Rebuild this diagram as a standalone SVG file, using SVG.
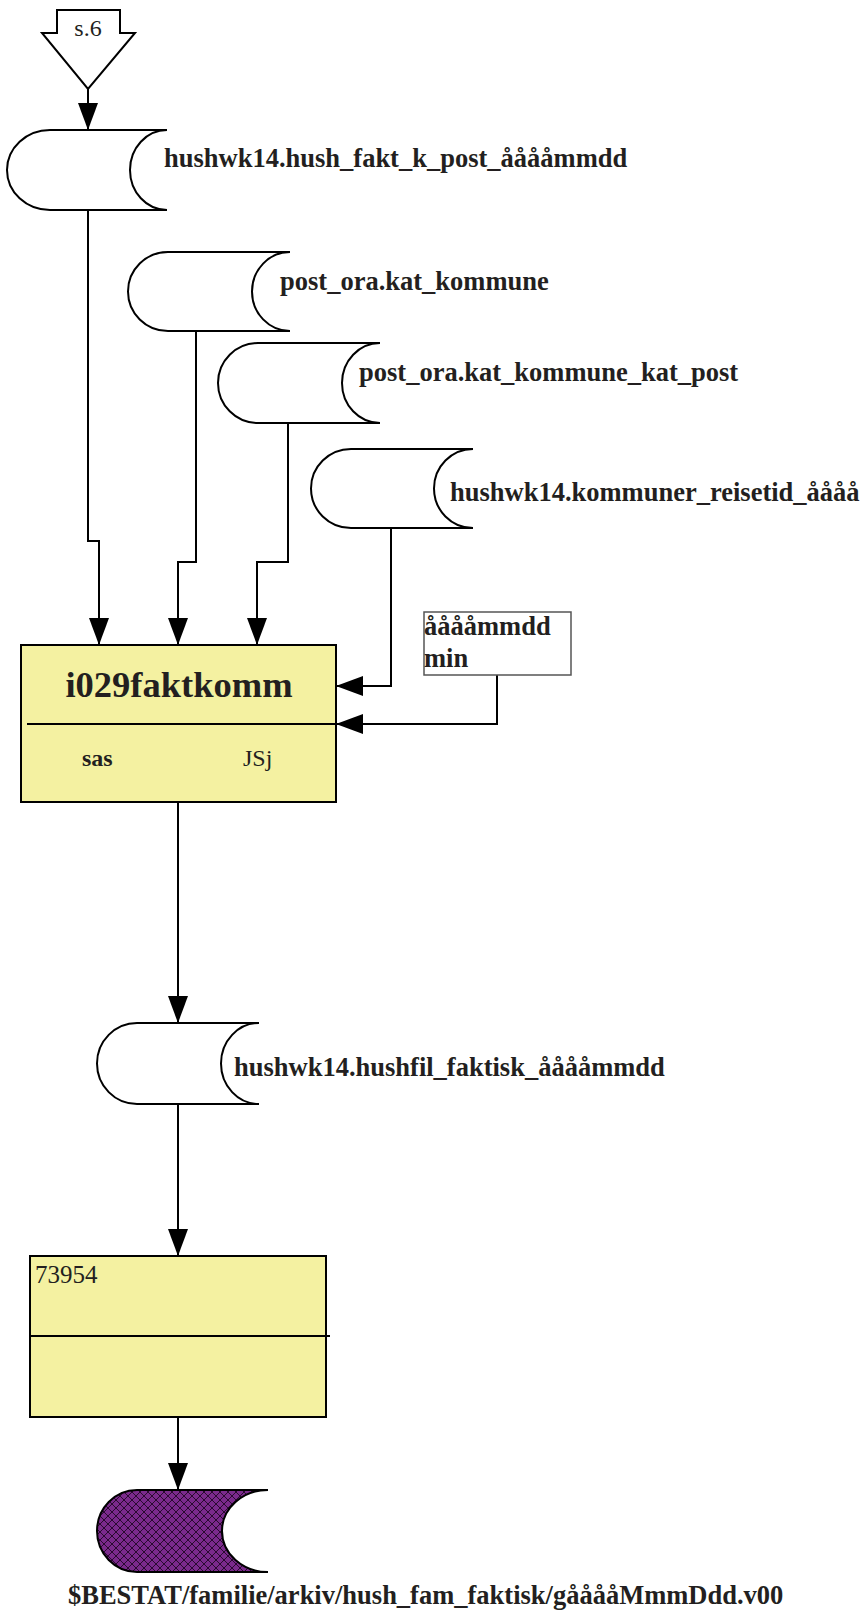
<svg xmlns="http://www.w3.org/2000/svg" width="861" height="1610" viewBox="0 0 861 1610">
<style>
.shape{fill:#fff;stroke:#000;stroke-width:2}
.box{fill:#F4F1A1;stroke:#000;stroke-width:2}
.line{fill:none;stroke:#000;stroke-width:2}
.lbl{font-family:"Liberation Serif","Times New Roman",serif;font-weight:bold;font-size:26.5px;fill:#231F20}
.reg{font-family:"Liberation Serif","Times New Roman",serif;font-size:24px;fill:#231F20}
</style>
<defs>
<marker id="arr" markerUnits="userSpaceOnUse" markerWidth="28" markerHeight="20" refX="27" refY="10" orient="auto">
<path d="M0,0 L27,10 L0,20 Z" fill="#000"/>
</marker>
<pattern id="hatch" patternUnits="userSpaceOnUse" width="8" height="8">
<rect width="8" height="8" fill="#7B2A8C"/>
<path d="M0,0 L8,8 M8,0 L0,8" stroke="#2A0A30" stroke-width="1"/>
</pattern>
</defs>

<g id="connectors">
<path class="line" d="M88,89 V130" marker-end="url(#arr)"/>
<path class="line" d="M88,210 V541 H99 V645" marker-end="url(#arr)"/>
<path class="line" d="M196,331 V562 H178 V645" marker-end="url(#arr)"/>
<path class="line" d="M288,423 V562 H257 V645" marker-end="url(#arr)"/>
<path class="line" d="M391,528 V686 H336" marker-end="url(#arr)"/>
<path class="line" d="M497,675 V724 H336" marker-end="url(#arr)"/>
<path class="line" d="M178,802 V1023" marker-end="url(#arr)"/>
<path class="line" d="M178,1104 V1256" marker-end="url(#arr)"/>
<path class="line" d="M178,1417 V1490" marker-end="url(#arr)"/>
</g>

<g id="offpage">
<polygon class="shape" points="57,10 120,10 120,33 135,33 88,89 42,33 57,33"/>
<text class="reg" x="88" y="36" text-anchor="middle">s.6</text>
</g>

<g id="store1">
<path class="shape" d="M50,130 H167 A37,40 0 0 0 167,210 H50 A43,40 0 0 1 50,130 Z"/>
<text class="lbl" x="164" y="167">hushwk14.hush_fakt_k_post_ååååmmdd</text>
</g>

<g id="store2">
<path class="shape" d="M168,252 H290 A38,39.5 0 0 0 290,331 H168 A40,39.5 0 0 1 168,252 Z"/>
<text class="lbl" x="280" y="290">post_ora.kat_kommune</text>
</g>

<g id="store3">
<path class="shape" d="M258,343 H380 A38,40 0 0 0 380,423 H258 A40,40 0 0 1 258,343 Z"/>
<text class="lbl" x="359" y="381">post_ora.kat_kommune_kat_post</text>
</g>

<g id="store4">
<path class="shape" d="M351,449 H473 A39,39.5 0 0 0 473,528 H351 A40,39.5 0 0 1 351,449 Z"/>
<text class="lbl" x="450" y="501">hushwk14.kommuner_reisetid_åååå</text>
</g>

<g id="param">
<rect x="424" y="612" width="147" height="63" fill="#fff" stroke="#555" stroke-width="1.5"/>
<text class="lbl" x="424" y="635">ååååmmdd</text>
<text class="lbl" x="424" y="667">min</text>
</g>

<g id="prog">
<rect class="box" x="21" y="645" width="315" height="157"/>
<line class="line" x1="27" y1="724" x2="336" y2="724"/>
<text class="lbl" x="179" y="697" text-anchor="middle" style="font-size:36.5px">i029faktkomm</text>
<text class="lbl" x="82" y="766" style="font-size:24px">sas</text>
<text class="reg" x="243" y="766">JSj</text>
</g>

<g id="store5">
<path class="shape" d="M137,1023 H259 A38,40.5 0 0 0 259,1104 H137 A40,40.5 0 0 1 137,1023 Z"/>
<text class="lbl" x="234" y="1076">hushwk14.hushfil_faktisk_ååååmmdd</text>
</g>

<g id="job">
<rect class="box" x="30" y="1256" width="296" height="161"/>
<line class="line" x1="30" y1="1336" x2="330" y2="1336"/>
<text class="reg" x="35" y="1283" style="font-size:25px">73954</text>
</g>

<g id="archive">
<path d="M137,1490 H268 A46,41 0 0 0 268,1572 H137 A40,41 0 0 1 137,1490 Z" fill="url(#hatch)" stroke="#000" stroke-width="2"/>
<text class="lbl" x="68" y="1604">$BESTAT/familie/arkiv/hush_fam_faktisk/gååååMmmDdd.v00</text>
</g>
</svg>
